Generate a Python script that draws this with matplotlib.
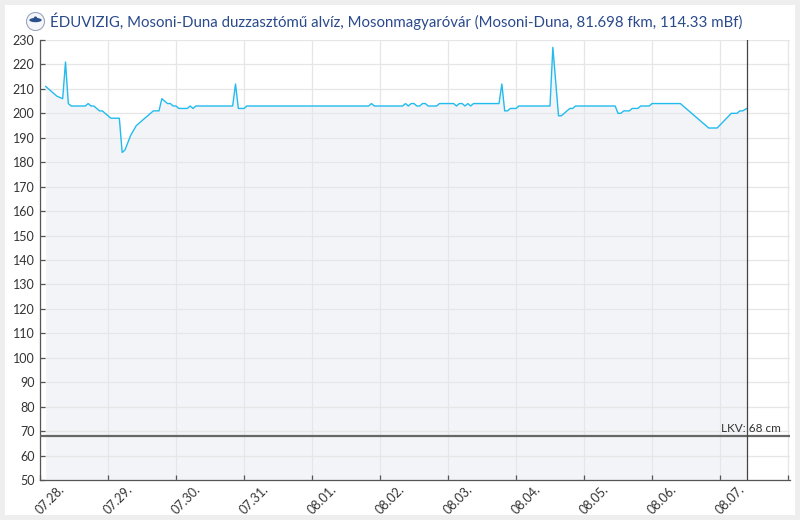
import numpy as np
import matplotlib
matplotlib.use("Agg")
import matplotlib.pyplot as plt
from matplotlib.patches import Rectangle, Circle, Ellipse
from matplotlib.transforms import ScaledTranslation, blended_transform_factory

plt.rcParams['font.family'] = ['Lato', 'DejaVu Sans']

title = "ÉDUVIZIG, Mosoni-Duna duzzasztómű alvíz, Mosonmagyaróvár (Mosoni-Duna, 81.698 fkm, 114.33 mBf)"

# hours since 07.28. 00:00 and water level (cm) at the break points of the line
hours = [2, 3, 6, 8, 9, 10, 11, 16, 17, 18, 19, 21, 22, 25, 28, 29, 30, 31, 32, 33,
         34, 35, 36, 37, 38, 39, 40, 42, 43, 44, 45, 46, 47, 48, 49, 52, 53, 54, 55, 68,
         69, 70, 72, 73, 116, 117, 118, 128, 129, 130, 131, 132, 133, 134, 135, 136, 137, 140, 141, 146,
         147, 148, 149, 150, 151, 152, 153, 162, 163, 164, 165, 166, 168, 169, 180, 181, 183, 184, 186, 187,
         188, 189, 203, 204, 205, 206, 208, 209, 211, 212, 215, 216, 226, 236, 239, 244, 246, 247, 248, 249.5]
levels = [211, 210, 207, 206, 221, 204, 203, 203, 204, 203, 203, 201, 201, 198, 198, 184, 185, 188, 191, 193,
          195, 196, 197, 198, 199, 200, 201, 201, 206, 205, 204, 204, 203, 203, 202, 202, 203, 202, 203, 203,
          212, 202, 202, 203, 203, 204, 203, 203, 204, 203, 204, 204, 203, 203, 204, 204, 203, 203, 204, 204,
          203, 204, 204, 203, 204, 203, 204, 204, 212, 201, 201, 202, 202, 203, 203, 227, 199, 199, 201, 202,
          202, 203, 203, 200, 200, 201, 201, 202, 202, 203, 203, 204, 204, 194, 194, 200, 200, 201, 201, 202]

day_ticks = [0, 24, 48, 72, 96, 120, 144, 168, 192, 216, 240, 264]
day_labels = ["07.28.", "07.29.", "07.30.", "07.31.", "08.01.", "08.02.",
              "08.03.", "08.04.", "08.05.", "08.06.", "08.07.", ""]
x_end = 264.7
now_hour = 249.5
lkv = 68
y_ticks = list(range(50, 231, 10))

fig = plt.figure(figsize=(8, 5.2), dpi=100, facecolor="#eeeeee")
fig.patches.append(Rectangle((5 / 800, 5 / 520), 790 / 800, 510 / 520,
                             transform=fig.transFigure, facecolor="white",
                             edgecolor="none", zorder=-10))

ax = fig.add_axes([40 / 800, 40 / 520, 750 / 800, 440 / 520])
ax.set_facecolor("none")
ax.set_axisbelow('line')

ax.fill_between(hours, levels, 50, color="#f3f4f8", linewidth=0)
ax.plot(hours, levels, color="#22bbee", linewidth=1.0, zorder=3)

ax.axhline(lkv, color="#666666", linewidth=1.6, zorder=4)
ax.axvline(now_hour, color="#444444", linewidth=0.9, zorder=4)
tr = blended_transform_factory(ax.transAxes, ax.transData)
ax.text(1.0, lkv, f"LKV: {lkv} cm", transform=tr + ScaledTranslation(-9 / 100, 2 / 100, fig.dpi_scale_trans),
        ha="right", va="bottom", fontsize=8.5, color="#333333", zorder=5)

ax.set_xlim(0, x_end)
ax.set_ylim(50, 230)
ax.set_yticks(y_ticks)
ax.set_xticks(day_ticks)
ax.tick_params(axis="x", labelbottom=False)

# rotated day labels, shifted a little right of their ticks like the original
xtr = blended_transform_factory(ax.transData, ax.transAxes)
shift = ScaledTranslation(10 / 100, -20 / 100, fig.dpi_scale_trans)
for t, lab in zip(day_ticks, day_labels):
    ax.text(t, 0, lab, transform=xtr + shift, rotation=45, rotation_mode="anchor",
            ha="center", va="center", fontsize=9, color="#333333", clip_on=False)

ax.grid(True, color="#e6e6e6", linewidth=0.9)
ax.tick_params(direction="in", length=3.8, width=0.9, color="#555555",
               labelcolor="#333333", labelsize=9)
ax.tick_params(axis="y", pad=4)
for side in ("top", "right"):
    ax.spines[side].set_visible(False)
for side in ("left", "bottom"):
    ax.spines[side].set_color("#555555")
    ax.spines[side].set_linewidth(0.9)

# small emblem before the title
logo_ax = fig.add_axes([26 / 800, 1 - 31 / 520, 19 / 800, 19 / 520])
logo_ax.set_xlim(-1, 1)
logo_ax.set_ylim(-1, 1)
logo_ax.set_aspect("equal")
logo_ax.axis("off")
logo_ax.add_patch(Circle((0, 0), 0.95, facecolor="#f4f6fa", edgecolor="#9aa6bd", linewidth=0.8))
logo_ax.add_patch(Ellipse((0, 0.15), 1.3, 0.45, facecolor="#2b4f8e", edgecolor="none"))
logo_ax.add_patch(Circle((0, 0.35), 0.18, facecolor="#2b4f8e", edgecolor="none"))

fig.text(50 / 800, 1 - 21 / 520, title, ha="left", va="center", fontsize=10.8, color="#2a4a8c")

fig.savefig("out.png", dpi=100, facecolor=fig.get_facecolor())
